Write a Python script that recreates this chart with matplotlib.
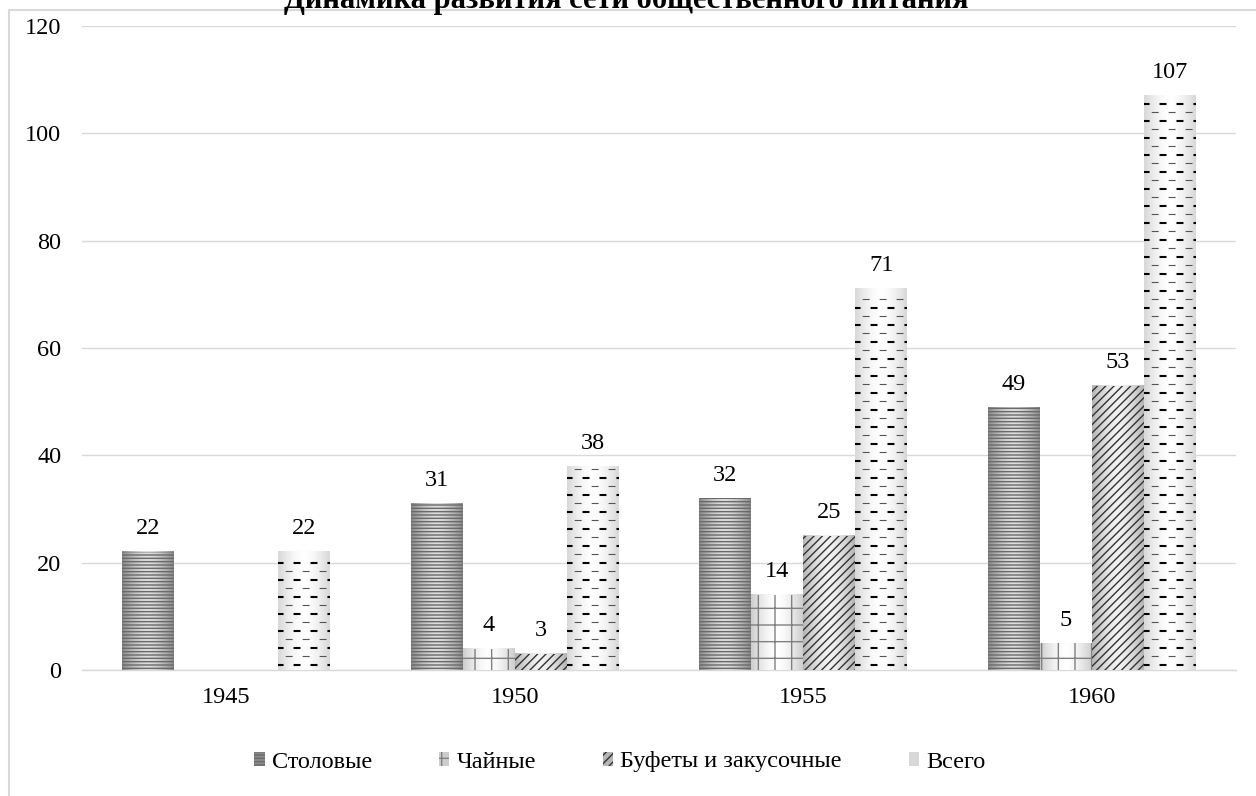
import numpy as np
import matplotlib
matplotlib.use("Agg")
import matplotlib.pyplot as plt
from matplotlib.patches import Rectangle, Patch
from matplotlib.colors import to_rgb

plt.rcParams['font.family'] = ['Liberation Serif', 'DejaVu Serif']
plt.rcParams['hatch.linewidth'] = 1.0
plt.rcParams['lines.scale_dashes'] = False

# ---- data ----
years = ['1945', '1950', '1955', '1960']
series_names = ['Столовые', 'Чайные', 'Буфеты и закусочные', 'Всего']
stolovye = [22, 31, 32, 49]
chainye = [0, 4, 14, 5]
bufety = [0, 3, 25, 53]
vsego = [22, 38, 71, 107]
title = 'Динамика развития сети общественного питания'
yticks = [0, 20, 40, 60, 80, 100, 120]

FS = 17.5
W, H = 1256, 796
fig = plt.figure(figsize=(W / 100, H / 100), dpi=100)
fig.patch.set_facecolor('white')

# outer chart frame (cropped at right/bottom)
frame = Rectangle((9 / W, -0.05), 1.2, 1 - 10 / H + 0.05, transform=fig.transFigure,
                  fill=False, edgecolor='#d9d9d9', linewidth=1.5, zorder=0)
fig.add_artist(frame)

ax_l, ax_r, ax_t, ax_b = 82, 1236, 26, 670
ax = fig.add_axes([ax_l / W, 1 - ax_b / H, (ax_r - ax_l) / W, (ax_b - ax_t) / H])

x = np.arange(len(years))
bw = 0.18
# (center colour, edge colour, hatch colour, hatch)
styles = [
    ('#dedede', '#8a8a8a', '#6a6a6a', '-----'),
    ('#ffffff', '#cdcdcd', '#808080', '+'),
    ('#f2f2f2', '#b4b4b4', '#333333', '////'),
    ('#ffffff', '#d8d8d8', None, None),
]
all_vals = [stolovye, chainye, bufety, vsego]

ax.set_ylim(0, 120)
ax.set_xlim(-0.5, len(years) - 0.5)

t = np.linspace(0, 1, 64)
prof = np.abs(2 * t - 1) ** 1.6

containers = []
for i, (vals, st) in enumerate(zip(all_vals, styles)):
    cc, ce, hc, hatch = st
    c0, c1 = np.array(to_rgb(cc)), np.array(to_rgb(ce))
    grad = (c0[None, :] * (1 - prof[:, None]) + c1[None, :] * prof[:, None])[None, :, :]
    # base bars (shape), gradient filled from the bar geometry
    base = ax.bar(x + (i - 1.5) * bw, vals, bw, linewidth=0, facecolor=ce, zorder=2)
    for b in base:
        if b.get_height() > 0:
            ax.imshow(grad, extent=(b.get_x(), b.get_x() + b.get_width(), 0, b.get_height()),
                      aspect='auto', interpolation='bilinear', zorder=2.2)
    if hatch:
        ax.bar(x + (i - 1.5) * bw, vals, bw, linewidth=0, facecolor='none',
               edgecolor=hc, hatch=hatch, zorder=2.5)
    containers.append(base)
    ax.bar_label(base, labels=[str(v) if v else '' for v in vals], padding=9,
                 fontsize=FS, color='black')

ax.set_xlim(-0.5, len(years) - 0.5)
ax.set_ylim(0, 120)

# dashed texture for "Всего" bars, derived from the bar geometry
units_per_px = 120 / (ax_b - ax_t)
step = 8.5 * units_per_px
for bar in containers[3]:
    x0 = bar.get_x()
    x1 = x0 + bar.get_width()
    h = bar.get_height()
    k = 0
    y = step * 0.6
    while y < h - step * 0.3:
        if k % 2 == 0:
            ax.plot([x0, x1], [y, y], color='black', lw=1.5,
                    linestyle=(1.0, (5.0, 7.2)), dash_capstyle='butt',
                    zorder=3, clip_path=bar)
        else:
            ax.plot([x0, x1], [y, y], color='#555555', lw=0.8,
                    linestyle=(7.0, (5.0, 7.2)), dash_capstyle='butt',
                    zorder=3, clip_path=bar)
        y += step
        k += 1

ax.set_yticks(yticks)
ax.set_xticks(x)
ax.set_xticklabels(years)
ax.yaxis.grid(True, color='#d9d9d9', linewidth=1.0, zorder=0)
ax.set_axisbelow(True)
for s in ['top', 'right', 'left']:
    ax.spines[s].set_visible(False)
ax.spines['bottom'].set_color('#d9d9d9')
ax.spines['bottom'].set_linewidth(1.0)
ax.spines['bottom'].set_zorder(1)
ax.tick_params(axis='both', length=0, labelsize=FS, colors='black')
ax.tick_params(axis='y', pad=15)
ax.tick_params(axis='x', pad=12)

fig.text(626 / W, 1 - 8 / H, title, ha='center', va='baseline',
         fontsize=22, fontweight='bold', color='black')

handles = []
for cc, ce, hc, hatch in styles:
    handles.append(Patch(facecolor=ce, edgecolor=hc if hc else ce, hatch=hatch, linewidth=0))
fig.legend(handles, series_names, loc='center', bbox_to_anchor=(620 / W, 1 - 762 / H),
           ncol=4, frameon=False, fontsize=FS, handlelength=0.42, handleheight=0.5,
           handletextpad=0.3, columnspacing=2.75, borderaxespad=0)

fig.savefig('out.png', dpi=100, facecolor='white')
